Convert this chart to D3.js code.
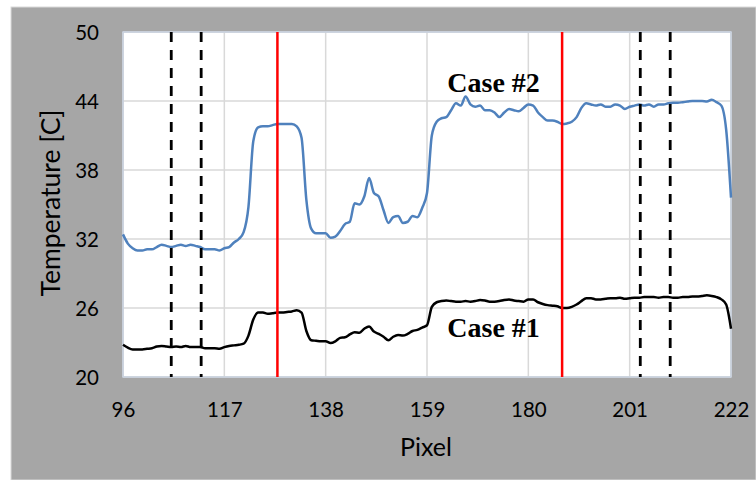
<!DOCTYPE html>
<html>
<head>
<meta charset="utf-8">
<script src="https://cdn.jsdelivr.net/npm/d3@7"></script>
<style>
  html, body { margin: 0; padding: 0; background: #ffffff; }
  svg { display: block; }
</style>
</head>
<body>
<svg id="chart" width="756" height="480"></svg>
<script>
// Pixel positions along the profile (96 .. 222)
const pixels = d3.range(96, 223);

// Case #1 temperatures [C], one per pixel
const case1 = [
  22.8, 22.55, 22.4, 22.4, 22.4, 22.45, 22.5, 22.65, 22.7, 22.65,
  22.6, 22.65, 22.6, 22.7, 22.6, 22.6, 22.6, 22.5, 22.5, 22.5,
  22.45, 22.6, 22.7, 22.75, 22.8, 22.9, 23.6, 25.0, 25.6, 25.6,
  25.5, 25.55, 25.6, 25.6, 25.65, 25.7, 25.8, 25.6, 24.0, 23.2,
  23.15, 23.1, 23.1, 22.95, 23.1, 23.4, 23.45, 23.7, 23.9, 23.85,
  24.2, 24.4, 23.95, 23.75, 23.5, 23.2, 23.5, 23.65, 23.6, 23.75,
  24.0, 24.1, 24.3, 24.5, 26.1, 26.5, 26.6, 26.65, 26.6, 26.55,
  26.55, 26.6, 26.55, 26.6, 26.7, 26.65, 26.55, 26.55, 26.6, 26.7,
  26.75, 26.65, 26.6, 26.55, 26.75, 26.75, 26.5, 26.35, 26.25, 26.2,
  26.15, 26.0, 26.0, 26.1, 26.3, 26.6, 26.85, 26.85, 26.75, 26.75,
  26.8, 26.85, 26.85, 26.9, 26.8, 26.85, 26.9, 26.9, 26.95, 26.95,
  26.95, 26.9, 26.95, 26.95, 26.9, 26.9, 26.95, 26.95, 27.0, 27.0,
  27.05, 27.1, 27.05, 26.95, 26.75, 26.3, 24.2
];

// Case #2 temperatures [C], one per pixel
const case2 = [
  32.4, 31.6, 31.2, 31.0, 31.0, 31.1, 31.1, 31.3, 31.5, 31.4,
  31.3, 31.4, 31.5, 31.4, 31.5, 31.4, 31.3, 31.1, 31.1, 31.1,
  31.0, 31.2, 31.3, 31.7, 32.0, 32.6, 34.8, 40.5, 41.7, 41.8,
  41.8, 41.9, 42.0, 42.0, 42.0, 42.0, 41.8, 40.8, 35.4, 32.9,
  32.5, 32.5, 32.5, 32.1, 32.2, 32.7, 33.3, 33.5, 35.1, 35.0,
  35.7, 37.3, 36.0, 35.7, 34.5, 33.4, 33.9, 34.0, 33.4, 33.5,
  34.0, 33.9, 34.7, 36.0, 41.0, 42.2, 42.5, 42.6, 43.2, 43.8,
  43.6, 44.4, 43.7, 43.5, 43.6, 43.2, 43.2, 43.0, 42.6, 43.0,
  43.3, 43.2, 43.1, 43.4, 43.7, 43.6, 43.0, 42.6, 42.3, 42.3,
  42.2, 42.0, 42.05, 42.2, 42.6, 43.4, 43.8, 43.7, 43.6, 43.7,
  43.5, 43.5, 43.7, 43.6, 43.3, 43.5, 43.6, 43.7, 43.6, 43.7,
  43.5, 43.7, 43.7, 43.8, 43.85, 43.85, 43.9, 43.95, 44.0, 44.0,
  44.0, 43.95, 44.1, 43.9, 43.6, 41.5, 35.6
];

// Axis ticks
const xTicks = [96, 117, 138, 159, 180, 201, 222];
const yTicks = [20, 26, 32, 38, 44, 50];

// Vertical marker positions (pixel)
const redMarkers = [128, 187];
const dashedMarkers = [106, 112.2, 203.2, 209.4];

// Series labels, anchored at (pixel, temperature)
const seriesLabels = [
  { text: "Case #2", px: 172.8, t: 44.8 },
  { text: "Case #1", px: 172.8, t: 23.45 }
];

const svg = d3.select("#chart");
const W = 756, H = 480;
const plot = { left: 123, right: 731, top: 32, bottom: 377 };

// Outer chart panel
svg.append("rect")
  .attr("x", 11).attr("y", 7)
  .attr("width", W - 11).attr("height", H - 7)
  .attr("fill", "#a6a6a6")
  .attr("stroke", "#d9d9d9").attr("stroke-width", 1);

const x = d3.scaleLinear().domain([96, 222]).range([plot.left, plot.right]);
const y = d3.scaleLinear().domain([20, 50]).range([plot.bottom, plot.top]);

// Plot area
svg.append("rect")
  .attr("x", plot.left).attr("y", plot.top)
  .attr("width", plot.right - plot.left).attr("height", plot.bottom - plot.top)
  .attr("fill", "#ffffff");

// Gridlines
const grid = svg.append("g").attr("class", "grid");
grid.selectAll("line.v").data(xTicks).join("line")
  .attr("class", "v")
  .attr("x1", d => x(d)).attr("x2", d => x(d))
  .attr("y1", plot.top).attr("y2", plot.bottom)
  .attr("stroke", "#d9d9d9").attr("stroke-width", 1.5);
grid.selectAll("line.h").data(yTicks).join("line")
  .attr("class", "h")
  .attr("x1", plot.left).attr("x2", plot.right)
  .attr("y1", d => y(d)).attr("y2", d => y(d))
  .attr("stroke", "#d9d9d9").attr("stroke-width", 1.5);

// Plot area outline
svg.append("rect")
  .attr("x", plot.left).attr("y", plot.top)
  .attr("width", plot.right - plot.left).attr("height", plot.bottom - plot.top)
  .attr("fill", "none")
  .attr("stroke", "#c6d0de").attr("stroke-width", 1.5);

// Temperature profiles
const line = d3.line()
  .x((d, i) => x(pixels[i]))
  .y(d => y(d))
  .curve(d3.curveMonotoneX);

svg.append("path").datum(case2)
  .attr("d", line)
  .attr("fill", "none")
  .attr("stroke", "#4f81bd").attr("stroke-width", 2.5)
  .attr("stroke-linejoin", "round");

svg.append("path").datum(case1)
  .attr("d", line)
  .attr("fill", "none")
  .attr("stroke", "#000000").attr("stroke-width", 2.5)
  .attr("stroke-linejoin", "round");

// Vertical markers
svg.append("g").selectAll("line").data(dashedMarkers).join("line")
  .attr("x1", d => x(d)).attr("x2", d => x(d))
  .attr("y1", plot.top).attr("y2", plot.bottom)
  .attr("stroke", "#000000").attr("stroke-width", 2.8)
  .attr("stroke-dasharray", "10,8");

svg.append("g").selectAll("line").data(redMarkers).join("line")
  .attr("x1", d => x(d)).attr("x2", d => x(d))
  .attr("y1", plot.top).attr("y2", plot.bottom)
  .attr("stroke", "#ff0000").attr("stroke-width", 2.5);

// Axes (labels only, no domain or tick marks)
const tickFont = "Lato, 'Open Sans', sans-serif";

const xAxis = svg.append("g")
  .attr("transform", `translate(0,${plot.bottom})`)
  .call(d3.axisBottom(x).tickValues(xTicks).tickSize(0).tickPadding(0).tickFormat(d3.format("d")));
xAxis.select(".domain").remove();
xAxis.selectAll("text")
  .attr("dy", null)
  .attr("y", 40)
  .attr("fill", "#000000")
  .style("font-family", tickFont)
  .style("font-size", "20.5px");

const yAxis = svg.append("g")
  .attr("transform", `translate(${plot.left},0)`)
  .call(d3.axisLeft(y).tickValues(yTicks).tickSize(0).tickPadding(0).tickFormat(d3.format("d")));
yAxis.select(".domain").remove();
yAxis.selectAll("text")
  .attr("x", -24)
  .attr("dy", "0.36em")
  .attr("fill", "#000000")
  .style("font-family", tickFont)
  .style("font-size", "20.5px");

// Axis titles
svg.append("text")
  .attr("x", (plot.left + plot.right) / 2 - 1)
  .attr("y", 456)
  .attr("text-anchor", "middle")
  .style("font-family", tickFont)
  .style("font-size", "25px")
  .attr("fill", "#000000")
  .text("Pixel");

svg.append("text")
  .attr("transform", "translate(60,203) rotate(-90)")
  .attr("text-anchor", "middle")
  .style("font-family", tickFont)
  .style("font-size", "26.5px")
  .attr("fill", "#000000")
  .text("Temperature [C]");

// Series labels
svg.append("g").selectAll("text").data(seriesLabels).join("text")
  .attr("x", d => x(d.px))
  .attr("y", d => y(d.t))
  .attr("text-anchor", "middle")
  .style("font-family", "'Liberation Serif', 'Times New Roman', serif")
  .style("font-weight", "bold")
  .style("font-size", "28px")
  .attr("fill", "#000000")
  .text(d => d.text);
</script>
</body>
</html>
